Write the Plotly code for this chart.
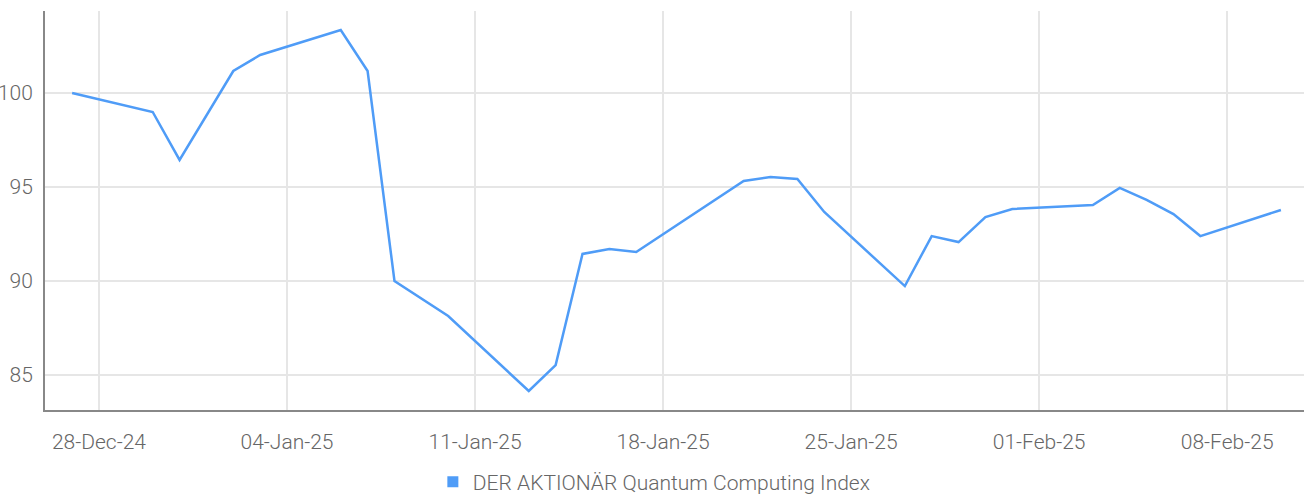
import plotly.graph_objects as go

dates = ["2024-12-27", "2024-12-30", "2024-12-31", "2025-01-02", "2025-01-03",
         "2025-01-06", "2025-01-07", "2025-01-08", "2025-01-10", "2025-01-13",
         "2025-01-14", "2025-01-15", "2025-01-16", "2025-01-17", "2025-01-21",
         "2025-01-22", "2025-01-23", "2025-01-24", "2025-01-27", "2025-01-28",
         "2025-01-29", "2025-01-30", "2025-01-31", "2025-02-03", "2025-02-04",
         "2025-02-05", "2025-02-06", "2025-02-07", "2025-02-10"]
values = [100.0, 98.99, 96.44, 101.17, 102.02,
          103.35, 101.17, 90.0, 88.14, 84.15,
          85.53, 91.44, 91.7, 91.54, 95.32,
          95.53, 95.43, 93.67, 89.73, 92.39,
          92.07, 93.4, 93.83, 94.04, 94.95,
          94.31, 93.56, 92.39, 93.78]
series_name = "DER AKTIONÄR Quantum Computing Index"
x_ticks = ["2024-12-28", "2025-01-04", "2025-01-11", "2025-01-18",
           "2025-01-25", "2025-02-01", "2025-02-08"]
x_tick_labels = ["28-Dec-24", "04-Jan-25", "11-Jan-25", "18-Jan-25",
                 "25-Jan-25", "01-Feb-25", "08-Feb-25"]
y_ticks = [85, 90, 95, 100]

color = "#4f9cf7"
font_family = "Roboto, sans-serif"

fig = go.Figure()
fig.add_trace(go.Scatter(x=dates, y=values, mode="lines",
                         line=dict(color=color, width=2.5),
                         showlegend=False, name=series_name))
fig.add_trace(go.Scatter(x=[None], y=[None], mode="markers",
                         marker=dict(symbol="square", color=color, size=11),
                         name=series_name, showlegend=True))

fig.update_layout(
    width=1304, height=495,
    margin=dict(l=45, r=0, t=11, b=85),
    paper_bgcolor="white", plot_bgcolor="white",
    font=dict(family=font_family, color="#666666", size=21, weight=300),
    showlegend=True,
    legend=dict(orientation="h", x=0.484, xanchor="center",
                yref="container", y=0.026, yanchor="middle",
                font=dict(size=21, color="#666666", weight=300), itemwidth=30),
    xaxis=dict(range=["2024-12-25 23:46", "2025-02-10 20:38"],
               tickvals=x_ticks, ticktext=x_tick_labels,
               showgrid=True, gridcolor="#e6e6e6", gridwidth=2,
               showline=True, linecolor="#888888", linewidth=2,
               ticks="", ticklabelstandoff=12, zeroline=False, automargin=False),
    yaxis=dict(range=[83.14, 104.36], tickvals=y_ticks,
               showgrid=True, gridcolor="#e6e6e6", gridwidth=2,
               showline=True, linecolor="#888888", linewidth=2,
               ticks="", ticklabelstandoff=6, zeroline=False, automargin=False),
)

fig.write_html("out.html", config={"displayModeBar": False},
               post_script="document.body.style.margin='0';document.body.style.overflow='hidden';")
